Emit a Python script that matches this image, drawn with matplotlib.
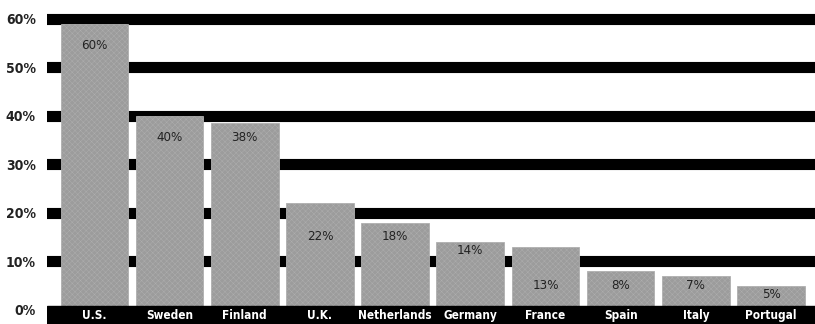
import matplotlib.pyplot as plt
import matplotlib as mpl

countries = ["U.S.", "Sweden", "Finland", "U.K.", "Netherlands", "Germany",
             "France", "Spain", "Italy", "Portugal"]
shares = [59, 40, 38.5, 22, 18, 14, 13, 8, 7, 5]
value_labels = ["60%", "40%", "38%", "22%", "18%", "14%", "13%", "8%", "7%", "5%"]
tick_values = [0, 10, 20, 30, 40, 50, 60]

# where each value label sits inside its bar (data units)
label_y = [54.5, 35.5, 35.5, 15.2, 15.2, 12.2, 5.0, 5.0, 5.1, 3.2]

plt.rcParams["font.family"] = ["DejaVu Sans"]
plt.rcParams["font.stretch"] = "condensed"
mpl.rcParams["hatch.linewidth"] = 0.3
mpl.rcParams["hatch.color"] = "#8a8a8a"

fig = plt.figure(figsize=(8.15, 3.24), dpi=100)
ax = fig.add_axes([47 / 815, 0, 1 - 47 / 815, 1])

ylo, yhi = -2.9, 63.9
ax.set_ylim(ylo, yhi)
ax.set_xlim(-0.63, 9.585)

# thick black gridlines
for t in tick_values[1:]:
    ax.axhline(t, color="black", lw=8, zorder=1)

x = range(len(countries))
ax.bar(x, shares, width=0.9, bottom=0, color="#9c9c9c", edgecolor="#b0b0b0",
       linewidth=0.6, hatch="xxxxxx", zorder=2)

# black base band with the category names
ax.axhspan(ylo, 0.85, color="black", zorder=3)
for i, name in enumerate(countries):
    ax.text(i, -1.05, name, color="white", fontsize=8.5, fontweight="bold",
            fontstretch="condensed", ha="center", va="center", zorder=4)

for i, lab in enumerate(value_labels):
    ax.text(i, label_y[i], lab, color="#222222", fontsize=9.5,
            fontstretch="condensed", ha="center", va="center", zorder=4)

ax.set_yticks(tick_values)
ax.set_yticklabels([f"{t}%" for t in tick_values], fontsize=10,
                   fontweight="bold", fontstretch="condensed", color="#222222")
ax.tick_params(axis="y", length=0, pad=8)
ax.set_xticks([])
for s in ax.spines.values():
    s.set_visible(False)

fig.savefig("out.png", dpi=100)
